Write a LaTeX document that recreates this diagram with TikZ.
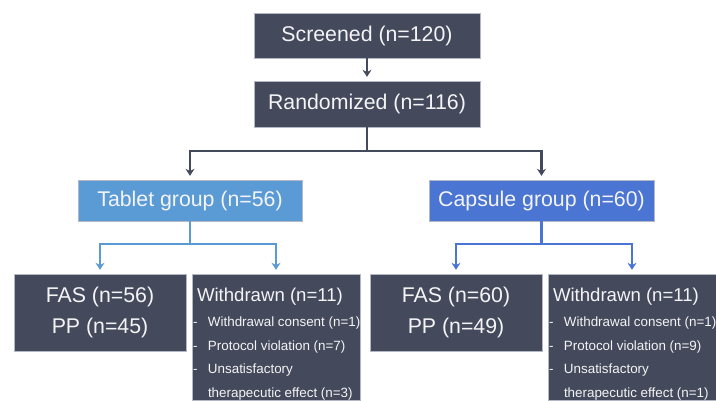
\documentclass[tikz,border=0pt]{standalone}
\usepackage{fontspec}
\setmainfont{Liberation Sans}
\usetikzlibrary{arrows.meta}
\usetikzlibrary{positioning}
\definecolor{BoxDark}{HTML}{444A5C}
\definecolor{BoxEdge}{HTML}{B4B8C4}
\definecolor{TabletBlue}{HTML}{5B9BD5}
\definecolor{CapsuleBlue}{HTML}{4A75D3}
\definecolor{TextWhite}{HTML}{F4F4F6}

\begin{document}
\begin{tikzpicture}[
  node distance=68.5pt,
  on grid,
  box/.style={rectangle, draw=BoxEdge, line width=0.4pt, inner sep=0pt,
    text=TextWhite, font=\fontsize{21.3}{31}\selectfont},
  darkbox/.style={box, fill=BoxDark},
  item/.style={anchor=west, inner sep=0pt, text=TextWhite,
    text height=10pt, text depth=3pt, font=\fontsize{13.4}{15}\selectfont},
  link/.style={line width=2.3pt, -{Stealth[length=7pt,width=9pt]}, shorten >=4pt},
  ]

\useasboundingbox (0,0) rectangle (716pt,-400pt);

\node [darkbox, minimum width=226pt, minimum height=45pt] (screened) at (367pt,-35.5pt) {Screened (n=120)};
\node [darkbox, minimum width=226pt, minimum height=46pt] (randomized) [below=of screened] {Randomized (n=116)};
\node [box, fill=TabletBlue, minimum width=224pt, minimum height=41pt] (tablet) [below left=96.5pt and 177pt of randomized] {Tablet group (n=56)};
\node [box, fill=CapsuleBlue, minimum width=225pt, minimum height=41pt] (capsule) [below right=96.5pt and 174.5pt of randomized] {Capsule group (n=60)};

\node [darkbox, minimum width=172pt, minimum height=77pt, align=center] (fasT) [below left=112pt and 90pt of tablet] {FAS (n=56)\\PP (n=45)};
\node [darkbox, minimum width=168pt, minimum height=126.5pt] (wdT) [below right=136.75pt and 86pt of tablet] {};
\node [darkbox, minimum width=172pt, minimum height=77pt, align=center] (fasC) [below left=112pt and 85.5pt of capsule] {FAS (n=60)\\PP (n=49)};
\node [darkbox, minimum width=168pt, minimum height=126.5pt] (wdC) [below right=136.75pt and 90.5pt of capsule] {};

% withdrawn, tablet group
\node [item, font=\fontsize{18.6}{21}\selectfont] (wdTtitle) [below right=24pt and 5pt of wdT.north west, anchor=west] {Withdrawn (n=11)};
\node [item] (wdT1) [below right=49pt and 1pt of wdT.north west, anchor=west] {\makebox[15pt][l]{-}Withdrawal consent (n=1)};
\node [item] (wdT2) [below=23.7pt of wdT1.west, anchor=west] {\makebox[15pt][l]{-}Protocol violation (n=7)};
\node [item] (wdT3) [below=23.7pt of wdT2.west, anchor=west] {\makebox[15pt][l]{-}Unsatisfactory};
\node [item] (wdT4) [below=23.7pt of wdT3.west, anchor=west] {\hspace*{15pt}therapecutic effect (n=3)};

% withdrawn, capsule group
\node [item, font=\fontsize{18.6}{21}\selectfont] (wdCtitle) [below right=24pt and 5pt of wdC.north west, anchor=west] {Withdrawn (n=11)};
\node [item] (wdC1) [below right=49pt and 1pt of wdC.north west, anchor=west] {\makebox[15pt][l]{-}Withdrawal consent (n=1)};
\node [item] (wdC2) [below=23.7pt of wdC1.west, anchor=west] {\makebox[15pt][l]{-}Protocol violation (n=9)};
\node [item] (wdC3) [below=23.7pt of wdC2.west, anchor=west] {\makebox[15pt][l]{-}Unsatisfactory};
\node [item] (wdC4) [below=23.7pt of wdC3.west, anchor=west] {\hspace*{15pt}therapecutic effect (n=1)};

% connectors
\draw [link, BoxDark] (screened) -- (randomized);
\coordinate [below=47pt of randomized] (rsplit);
\draw [line width=2.3pt, BoxDark] (randomized) -- (rsplit);
\draw [link, BoxDark] (rsplit) -| (tablet);
\draw [link, BoxDark] (rsplit) -| (capsule);

\coordinate [below=43.5pt of tablet] (tsplit);
\draw [line width=2.3pt, TabletBlue] (tablet) -- (tsplit);
\draw [link, TabletBlue] (tsplit) -| (fasT);
\draw [link, TabletBlue] (tsplit) -| (wdT);

\coordinate [below=43.5pt of capsule] (csplit);
\draw [line width=2.3pt, CapsuleBlue] (capsule) -- (csplit);
\draw [link, CapsuleBlue] (csplit) -| (fasC);
\draw [link, CapsuleBlue] (csplit) -| (wdC);
\end{tikzpicture}
\end{document}
